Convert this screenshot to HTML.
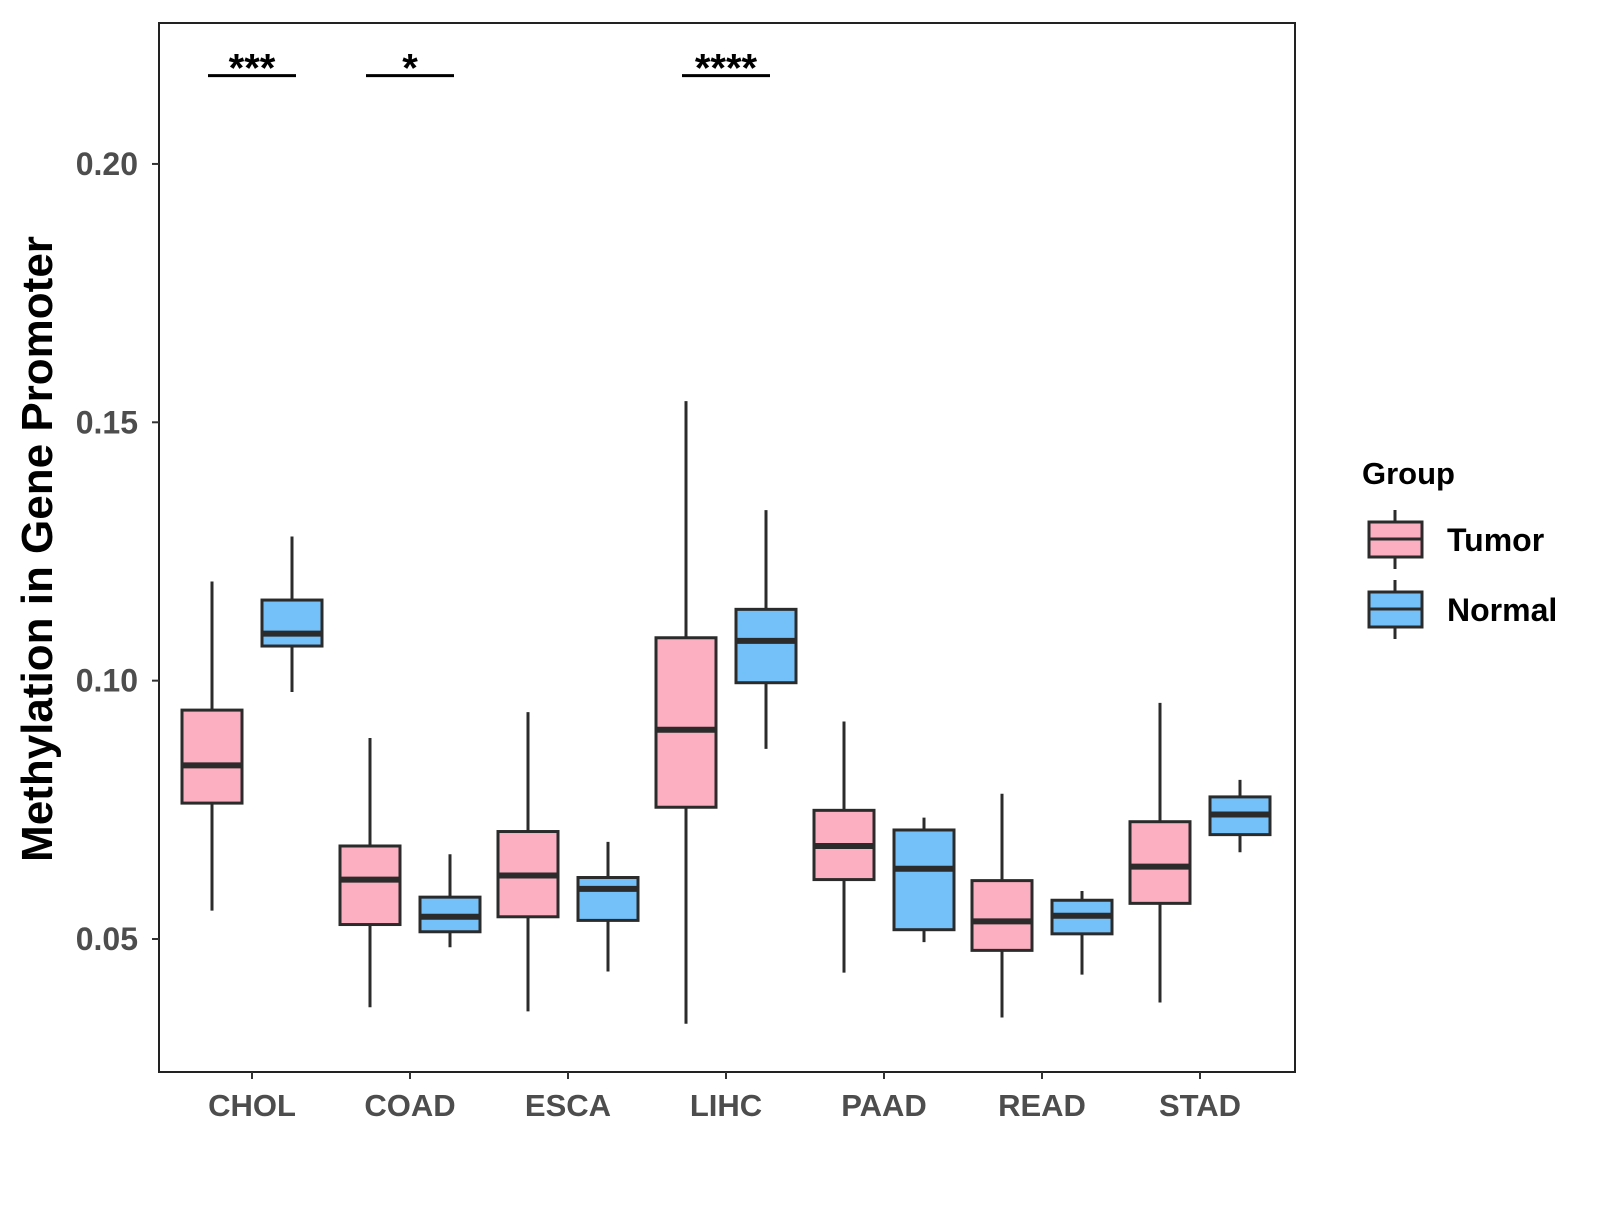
<!DOCTYPE html>
<html><head><meta charset="utf-8"><style>
body{margin:0;background:#fff;}
svg text{font-family:"Liberation Sans",Arial,sans-serif;font-weight:bold;}
</style></head><body>
<svg id="chart" width="1600" height="1200" xmlns="http://www.w3.org/2000/svg">
<rect x="159" y="23" width="1136" height="1049" fill="#fff" stroke="#222" stroke-width="2"/>
<g id="yaxis"></g>
<g id="xaxis"></g>
<g id="boxes"></g>
<g id="sig"></g>
<text x="52" y="549" transform="rotate(-90 52 549)" text-anchor="middle" font-size="44" fill="#000">Methylation in Gene Promoter</text>
<g transform="translate(-7,0)">
<text x="1369" y="484" font-size="31" fill="#000">Group</text>
<g>
<line x1="1402" y1="510" x2="1402" y2="569" stroke="#2b2b2b" stroke-width="3"/>
<rect x="1376" y="522" width="53" height="35" fill="#fbafc0" stroke="#2b2b2b" stroke-width="3"/>
<line x1="1376" y1="539" x2="1429" y2="539" stroke="#2b2b2b" stroke-width="3"/>
<text x="1454" y="551" font-size="32" fill="#000">Tumor</text></g>
<g>
<line x1="1402" y1="580" x2="1402" y2="639" stroke="#2b2b2b" stroke-width="3"/>
<rect x="1376" y="592" width="53" height="35" fill="#74c0f8" stroke="#2b2b2b" stroke-width="3"/>
<line x1="1376" y1="609" x2="1429" y2="609" stroke="#2b2b2b" stroke-width="3"/>
<text x="1454" y="621" font-size="32" fill="#000">Normal</text></g>
</g>
</svg>
<script>
const categories=["CHOL","COAD","ESCA","LIHC","PAAD","READ","STAD"];
// [whiskerMax, q3, median, q1, whiskerMin]
const tumorStats=[[0.1192,0.0943,0.0836,0.0763,0.0555],[0.0889,0.0680,0.0615,0.0528,0.0368],[0.0939,0.0708,0.0623,0.0543,0.0360],[0.1541,0.1083,0.0905,0.0755,0.0336],[0.0921,0.0749,0.0680,0.0615,0.0435],[0.0781,0.0613,0.0534,0.0478,0.0348],[0.0957,0.0727,0.0640,0.0569,0.0377]];
const normalStats=[[0.1279,0.1156,0.1091,0.1067,0.0978],[0.0664,0.0581,0.0543,0.0514,0.0484],[0.0688,0.0619,0.0597,0.0536,0.0437],[0.1330,0.1138,0.1077,0.0996,0.0868],[0.0735,0.0711,0.0636,0.0518,0.0494],[0.0593,0.0575,0.0545,0.0510,0.0431],[0.0808,0.0775,0.0741,0.0702,0.0668]];
const yTicks=[0.05,0.10,0.15,0.20];
const yTickLabels=["0.05","0.10","0.15","0.20"];
const sigCategories=["CHOL","COAD","LIHC"];
const sigLabels=["***","*","****"];
const sigLevel=0.2171;

const NS="http://www.w3.org/2000/svg";
function y(v){return 939-(v-0.05)*5167;}
function x(i){return 252+i*158;}
function mk(tag,attrs,parent){const e=document.createElementNS(NS,tag);for(const k in attrs)e.setAttribute(k,attrs[k]);parent.appendChild(e);return e;}
const ya=document.getElementById('yaxis'),xa=document.getElementById('xaxis'),bx=document.getElementById('boxes'),sg=document.getElementById('sig');
yTicks.forEach((t,i)=>{
  const l=mk('line',{x1:152,x2:159,y1:y(t),y2:y(t),stroke:'#333','stroke-width':2},ya);
  
  
  const tx=mk('text',{x:138,y:y(t)+11,'text-anchor':'end','font-size':32,fill:'#4d4d4d'},ya);
  tx.textContent=yTickLabels[i];
  
  
});
categories.forEach((c,i)=>{
  const l=mk('line',{x1:x(i),x2:x(i),y1:1072,y2:1079,stroke:'#333','stroke-width':2},xa);
  
  
  const tx=mk('text',{x:x(i),y:1116,'text-anchor':'middle','font-size':31,fill:'#4d4d4d'},xa);
  tx.textContent=c;
  
  
});
function box(cx,s,fill,name){
  const g=mk('g',{},bx);
  
  
  mk('line',{x1:cx,x2:cx,y1:y(s[0]),y2:y(s[4]),stroke:'#2b2b2b','stroke-width':3},g);
  mk('rect',{x:cx-30,y:y(s[1]),width:60,height:y(s[3])-y(s[1]),fill:fill,stroke:'#2b2b2b','stroke-width':3},g);
  mk('line',{x1:cx-30,x2:cx+30,y1:y(s[2]),y2:y(s[2]),stroke:'#2b2b2b','stroke-width':6},g);
}
categories.forEach((c,i)=>{
  box(x(i)-40,tumorStats[i],'#fbafc0','box-tumor-'+c.toLowerCase());
  box(x(i)+40,normalStats[i],'#74c0f8','box-normal-'+c.toLowerCase());
});
sigCategories.forEach((c,k)=>{
  const i=categories.indexOf(c);
  const l=mk('line',{x1:x(i)-44,x2:x(i)+44,y1:y(sigLevel),y2:y(sigLevel),stroke:'#000','stroke-width':3},sg);
  
  
  const t=mk('text',{x:x(i),y:y(sigLevel)+6,'text-anchor':'middle','font-size':40,fill:'#000'},sg);
  t.textContent=sigLabels[k];
  
  
});
</script>
</body></html>
